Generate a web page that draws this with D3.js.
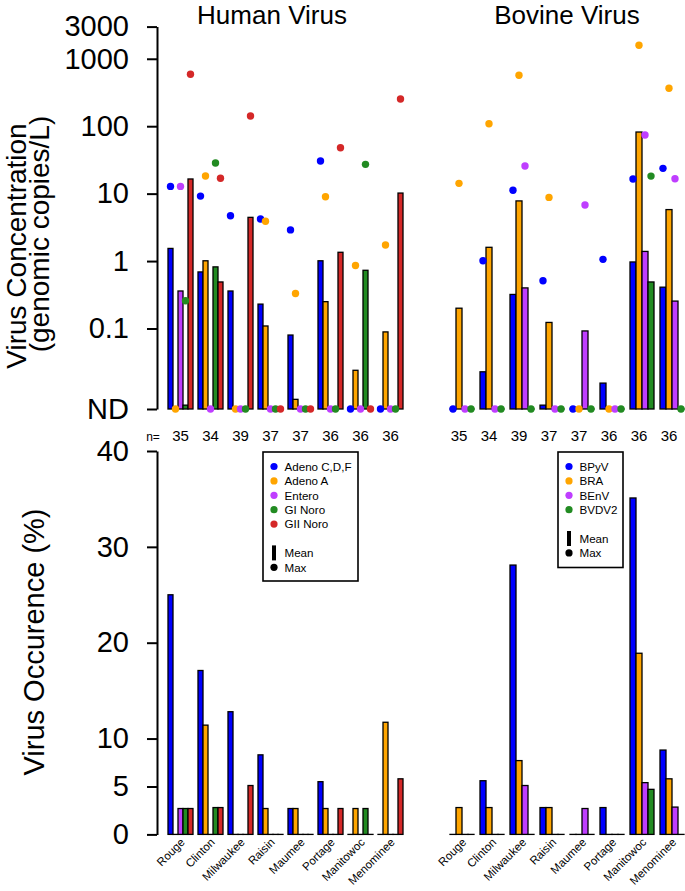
<!DOCTYPE html>
<html><head><meta charset="utf-8">
<script src="https://cdn.jsdelivr.net/npm/d3@7"></script>
<style>body{margin:0;background:#fff}text{font-family:"Liberation Sans",Arial,Helvetica,sans-serif}</style>
</head><body><svg id="c" width="685" height="891"></svg>
<script>
const sites = ["Rouge","Clinton","Milwaukee","Raisin","Maumee","Portage","Manitowoc","Menominee"];
const humanSeries = ["Adeno C,D,F","Adeno A","Entero","GI Noro","GII Noro"];
const bovineSeries = ["BPyV","BRA","BEnV","BVDV2"];
const humanColors = ["#0000FF","#FFA500","#BF3EFF","#228B22","#D42828"];
const bovineColors = ["#0000FF","#FFA500","#BF3EFF","#228B22"];
const sampleN = [35,34,39,37,37,36,36,36];
const concTicks = [3000,1000,100,10,1,0.1];
const occTicks = [0,5,10,20,30,40];
// 0 = not detected (ND)
const humanMean = [
  [1.54,0.69,0.36,0.23,0.08,1.01,0,0],
  [0,1.01,0,0.109,0.0089,0.25,0.024,0.089],
  [0.36,0,0,0,0,0,0,0],
  [0.0073,0.82,0,0,0,0,0.73,0],
  [16.5,0.49,4.45,0,0,1.35,0,10.2]
];
const humanMax = [
  [12.8,9.2,4.7,4.2,2.9,30.5,0,0],
  [0,18.3,0,3.9,0.33,9.0,0.86,1.73],
  [12.8,0,0,0,0,0,0,0],
  [0.258,28.5,0,0,0,0,27.2,0],
  [589,16.9,142,0,0,48,0,253]
];
const bovineMean = [
  [0,0.0228,0.32,0.0073,0,0.0155,0.97,0.41],
  [0.20,1.6,7.8,0.123,0,0,82,5.8],
  [0,0,0.40,0,0.092,0,1.39,0.255],
  [0,0,0,0,0,0,0.49,0]
];
const bovineMax = [
  [0,1.01,11.2,0.51,0,1.06,16.5,23.7],
  [14.2,109,569,8.8,0,0,1586,365],
  [0,0,25.7,0,6.8,0,74,16.6],
  [0,0,0,0,0,0,18.2,0]
];
const humanOcc = [
  [25.0,17.1,12.8,8.3,2.7,5.5,0,0],
  [0,11.4,0,2.7,2.7,2.7,2.7,11.7],
  [2.7,0,0,0,0,0,0,0],
  [2.7,2.8,0,0,0,0,2.7,0],
  [2.7,2.8,5.1,0,0,2.7,0,5.8]
];
const bovineOcc = [
  [0,5.6,28.1,2.8,0,2.8,35.1,8.8],
  [2.8,2.8,7.7,2.8,0,0,18.9,5.8],
  [0,0,5.1,0,2.7,0,5.4,2.85],
  [0,0,0,0,0,0,4.7,0]
];

const ND = 0.0064;
const svg = d3.select("#c");
const yTop = d3.scaleLog().domain([ND,3000]).range([409,26.6]);
const yBot = d3.scaleLinear().domain([0,40]).range([834.4,451]);
const xH = d3.scaleBand().domain(sites).range([160.5,410.5]).paddingInner(1/6).paddingOuter(0.25);
const xB = d3.scaleBand().domain(sites).range([442,692]).paddingInner(0.2).paddingOuter(4/15);
const xHs = d3.scaleBand().domain(humanSeries).range([0,xH.bandwidth()]);
const xBs = d3.scaleBand().domain(bovineSeries).range([0,xB.bandwidth()]);
const nd = v => v > 0 ? v : ND;

// axes
const fmtTop = d => d === ND ? "ND" : String(d);
const axTop = d3.axisLeft(yTop).tickValues(concTicks.concat([ND])).tickFormat(fmtTop).tickSize(10).tickSizeOuter(0).tickPadding(18);
const gA = svg.append("g").attr("transform","translate(157,0)").call(axTop);
const axBot = d3.axisLeft(yBot).tickValues(occTicks).tickFormat(d3.format("d")).tickSize(10).tickSizeOuter(0).tickPadding(18);
const gB = svg.append("g").attr("transform","translate(157,0)").call(axBot);
[gA,gB].forEach(g=>{
  g.selectAll("path,line").attr("stroke","#000").attr("stroke-width",2);
  g.selectAll("text").attr("font-size",29).attr("fill","#000").style("font-family","Liberation Sans, Arial, sans-serif");
});

// titles
svg.append("text").attr("x",272).attr("y",24).attr("text-anchor","middle").attr("font-size",26).text("Human Virus");
svg.append("text").attr("x",567).attr("y",24).attr("text-anchor","middle").attr("font-size",26).text("Bovine Virus");
svg.append("text").attr("transform","translate(26,246) rotate(-90)").attr("text-anchor","middle").attr("font-size",28).text("Virus Concentration");
svg.append("text").attr("transform","translate(49,234) rotate(-90)").attr("text-anchor","middle").attr("font-size",28).text("(genomic copies/L)");
svg.append("text").attr("transform","translate(44,642) rotate(-90)").attr("text-anchor","middle").attr("font-size",29).text("Virus Occurence (%)");

function drawPanel(xG, xS, series, colors, mean, max, occ){
  series.forEach((s,si)=>{
    const gBar = svg.append("g");
    sites.forEach((site,i)=>{
      const x = xG(site)+xS(s);
      const yv = yTop(nd(mean[si][i]));
      gBar.append("rect").attr("x",x).attr("y",yv).attr("width",xS.bandwidth())
        .attr("height",Math.max(yTop(ND)-yv,0.01))
        .attr("fill",colors[si]).attr("stroke","#000").attr("stroke-width",1.3);
      const yo = yBot(occ[si][i]);
      gBar.append("rect").attr("x",x).attr("y",yo).attr("width",xS.bandwidth())
        .attr("height",Math.max(yBot(0)-yo,0.01))
        .attr("fill",colors[si]).attr("stroke","#000").attr("stroke-width",1.3);
    });
  });
  series.forEach((s,si)=>{
    sites.forEach((site,i)=>{
      svg.append("circle").attr("cx",xG(site)+xS(s)+xS.bandwidth()/2)
        .attr("cy",yTop(nd(max[si][i]))).attr("r",3.7).attr("fill",colors[si]);
    });
  });
}
drawPanel(xH,xHs,humanSeries,humanColors,humanMean,humanMax,humanOcc);
drawPanel(xB,xBs,bovineSeries,bovineColors,bovineMean,bovineMax,bovineOcc);

// n labels
svg.append("text").attr("x",153).attr("y",441).attr("text-anchor","middle").attr("font-size",12).text("n=");
sites.forEach((site,i)=>{
  svg.append("text").attr("x",xH(site)+xH.bandwidth()/2).attr("y",441).attr("text-anchor","middle").attr("font-size",15).text(sampleN[i]);
  svg.append("text").attr("x",xB(site)+xB.bandwidth()/2-3).attr("y",441).attr("text-anchor","middle").attr("font-size",15).text(sampleN[i]);
  [[xH],[xB]].forEach(([xg])=>{
    const cx = xg(site)+xg.bandwidth()/2+5;
    svg.append("text").attr("transform",`translate(${cx},843) rotate(-45)`).attr("text-anchor","end").attr("font-size",11.5).text(site);
  });
});

// legends
function legend(x0,y0,w,h,names,colors){
  const g = svg.append("g");
  g.append("rect").attr("x",x0).attr("y",y0).attr("width",w).attr("height",h).attr("fill","#fff").attr("stroke","#000").attr("stroke-width",1.6);
  const step = 14.4;
  names.forEach((n,i)=>{
    const cy = y0+14.5+i*step;
    g.append("circle").attr("cx",x0+11).attr("cy",cy).attr("r",3.6).attr("fill",colors[i]);
    g.append("text").attr("x",x0+21.5).attr("y",cy+4.2).attr("font-size",11.6).text(n);
  });
  const cyM = y0+14.5+(names.length+1)*step;
  g.append("rect").attr("x",x0+9).attr("y",cyM-7.5).attr("width",4).attr("height",15).attr("fill","#000");
  g.append("text").attr("x",x0+21.5).attr("y",cyM+4.2).attr("font-size",11.6).text("Mean");
  const cyX = cyM+step;
  g.append("circle").attr("cx",x0+11).attr("cy",cyX).attr("r",3.6).attr("fill","#000");
  g.append("text").attr("x",x0+21.5).attr("y",cyX+4.2).attr("font-size",11.6).text("Max");
}
legend(263,452,95,129,humanSeries,humanColors);
legend(558,452,65,115.5,bovineSeries,bovineColors);
</script></body></html>
